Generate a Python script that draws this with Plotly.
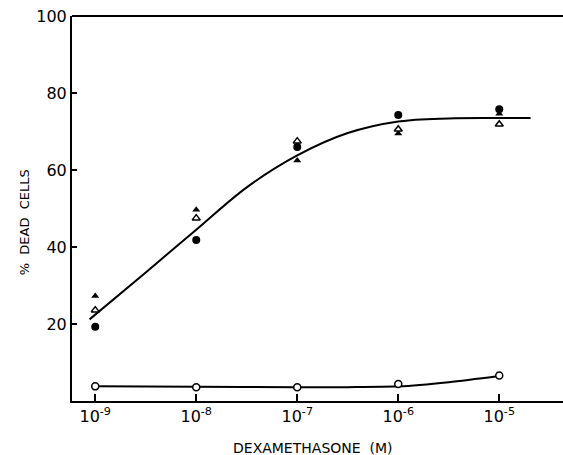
import plotly.graph_objects as go

# Dexamethasone concentrations (M)
conc = [1e-9, 1e-8, 1e-7, 1e-6, 1e-5]
tick_labels = ["10<sup>-9</sup>", "10<sup>-8</sup>", "10<sup>-7</sup>", "10<sup>-6</sup>", "10<sup>-5</sup>"]

# % dead cells
filled_circle = [19.3, 41.8, 66.0, 74.3, 75.8]
filled_triangle = [27.3, 49.7, 62.5, 69.5, 74.6]
open_triangle = [23.6, 47.5, 67.5, 70.6, 71.9]
open_circle = [3.8, 3.6, 3.6, 4.4, 6.6]

# hand-drawn fitted curves
curve_x = [10**-9.056, 10**-8.5, 10**-8, 10**-7.5, 10**-7, 10**-6.5, 10**-6, 10**-5.5, 10**-5, 10**-4.69]
curve_y = [21.2, 33.4, 44.5, 55.5, 63.8, 69.6, 72.6, 73.4, 73.5, 73.5]
ctrl_x = [1e-9, 1e-8, 1e-7, 10**-6.5, 1e-6, 10**-5.5, 1e-5]
ctrl_y = [3.8, 3.7, 3.6, 3.6, 3.8, 4.9, 6.5]

fig = go.Figure()
fig.add_trace(go.Scatter(x=curve_x, y=curve_y, mode="lines", hoverinfo="skip",
                         line=dict(color="black", width=2, shape="spline", smoothing=1.0)))
fig.add_trace(go.Scatter(x=ctrl_x, y=ctrl_y, mode="lines", hoverinfo="skip",
                         line=dict(color="black", width=2, shape="spline", smoothing=0.8)))
fig.add_trace(go.Scatter(x=conc, y=filled_circle, mode="markers",
                         marker=dict(symbol="circle", size=8, color="black")))
fig.add_trace(go.Scatter(x=conc, y=filled_triangle, mode="markers",
                         marker=dict(symbol="triangle-up", size=7, color="black")))
fig.add_trace(go.Scatter(x=conc, y=open_triangle, mode="markers",
                         marker=dict(symbol="triangle-up", size=7, color="white",
                                     line=dict(color="black", width=1.5))))
fig.add_trace(go.Scatter(x=conc, y=open_circle, mode="markers",
                         marker=dict(symbol="circle", size=7, color="white",
                                     line=dict(color="black", width=1.5))))

fig.update_layout(
    width=563, height=455,
    margin=dict(l=72, r=0, t=16, b=54),
    paper_bgcolor="white", plot_bgcolor="white",
    showlegend=False,
    font=dict(family="DejaVu Sans", color="black"),
    xaxis=dict(type="log", range=[-9.23, -4.369], tickvals=conc, ticktext=tick_labels,
               showgrid=False, zeroline=False, showline=True, linecolor="black", linewidth=2,
               ticks="inside", ticklen=7, tickwidth=1.5, tickcolor="black",
               ticklabeloverflow="allow",
               tickfont=dict(size=16, family="DejaVu Sans")),
    yaxis=dict(range=[0, 100], tickvals=[20, 40, 60, 80, 100],
               showgrid=False, zeroline=False, showline=True, linecolor="black", linewidth=2,
               ticks="inside", ticklen=5, tickwidth=1.5, tickcolor="black",
               ticklabeloverflow="allow",
               tickfont=dict(size=16, family="DejaVu Sans")),
    shapes=[dict(type="line", xref="paper", yref="paper", x0=0, x1=1, y0=1, y1=1,
                 line=dict(color="black", width=2))],
    annotations=[
        dict(text="DEXAMETHASONE  (M)", xref="paper", yref="paper", x=0.49, y=-0.095,
             xanchor="center", yanchor="top", showarrow=False,
             font=dict(size=14, family="DejaVu Sans")),
        dict(text="%  DEAD  CELLS", xref="paper", yref="paper", x=-0.095, y=0.465,
             xanchor="center", yanchor="middle", textangle=-90, showarrow=False,
             font=dict(size=13, family="DejaVu Sans")),
    ],
)

fig.write_html("out.html", config={"displayModeBar": False},
               post_script="document.body.style.margin='0';document.body.style.overflow='hidden';")
